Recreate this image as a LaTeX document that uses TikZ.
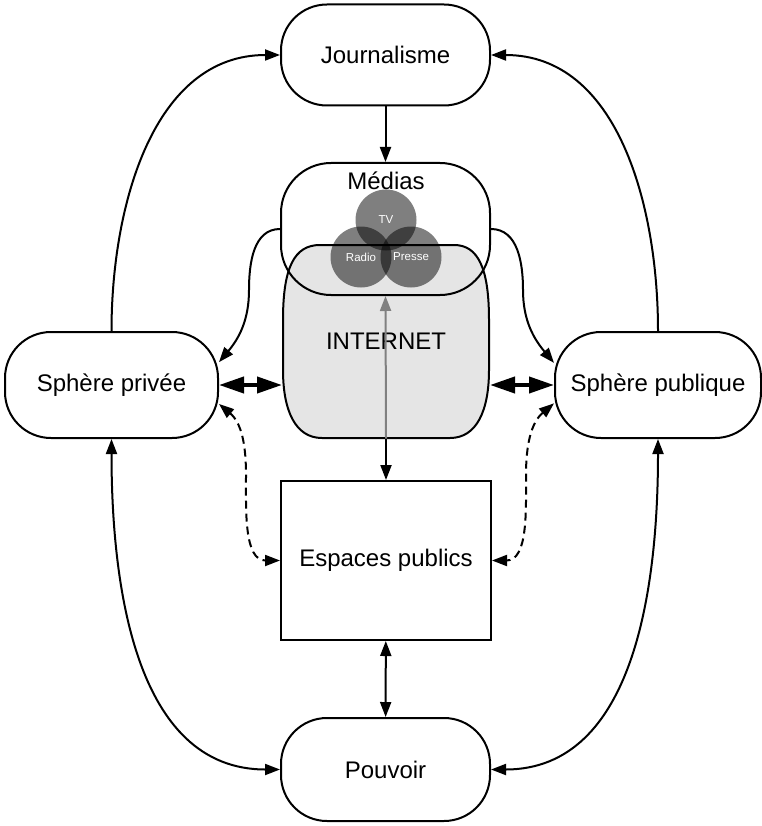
\documentclass[tikz,border=0pt]{standalone}
\usepackage{fontspec}
\setmainfont{Liberation Sans}
\usetikzlibrary{arrows.meta,positioning}

\begin{document}
\begin{tikzpicture}[x=1pt,y=-1pt,line width=2pt,>={Triangle[length=15pt,width=11pt]}]
\tikzstyle{every node}=[font=\fontsize{24}{29}\selectfont]
\tikzstyle{pill}=[draw,rectangle,rounded corners=46pt,minimum width=209pt,minimum height=101pt]
\tikzstyle{media}=[circle,fill=black,fill opacity=0.5,text opacity=1,text=white,minimum size=61pt,inner sep=0pt,font=\fontsize{11.5}{13}\selectfont]
\tikzstyle{bigarrow}=[<->,line width=4pt,>={Triangle[length=25pt,width=16pt]}]
\tikzstyle{dashline}=[<->,dash pattern=on 8pt off 5pt]
\useasboundingbox (0,0) rectangle (761,826);

\node[pill] (jour) at (385.5,55) {Journalisme};
\node[pill,minimum width=213pt,minimum height=106pt] (priv) at (111.5,385) {Sphère privée};
\node[pill,minimum width=206pt,minimum height=106pt] (pub) at (658,385) {Sphère publique};
\node[pill,minimum height=103pt] (pouvoir) at (385.5,769.5) {Pouvoir};
\node[draw,rectangle,minimum width=210pt,minimum height=159pt] (espaces) at (386,560.5) {Espaces publics};

% internet
\draw[fill=gray!20] (320,245) -- (454,245) .. controls (478,245) and (489,268) .. (489,320) -- (489,370)
  .. controls (489,410) and (477,438) .. (450,438) -- (322,438) .. controls (295,438) and (283,410) .. (283,370)
  -- (283,320) .. controls (283,268) and (294,245) .. (320,245) -- cycle;
\node[minimum width=206pt,minimum height=193pt] (internet) at (386,341) {INTERNET};

% medias
\node[draw,rectangle,rounded corners=50pt,minimum width=209pt,minimum height=132pt] (medias) at (385.5,229) {};
\node (mtitle) at (386,181) {Médias};
\node[media] (tv) at (386,220) {};
\node[media] (radio) at (361,257) {};
\node[media] (presse) at (411,257) {};
\node[text=white,font=\fontsize{11.5}{13}\selectfont] at (tv) {TV};
\node[text=white,font=\fontsize{11.5}{13}\selectfont] at (radio) {Radio};
\node[text=white,font=\fontsize{11.5}{13}\selectfont] at (presse) {Presse};

\draw[->] (jour) -- (medias);
\draw[->] (priv.north) to[out=90,in=180] (jour.west);
\draw[->] (pub.north) to[out=90,in=0] (jour.east);
\draw[<->] (priv.south) to[out=-90,in=180] (pouvoir.west);
\draw[<->] (pub.south) to[out=-90,in=0] (pouvoir.east);
\draw[<->] (espaces) -- (pouvoir);

\draw[bigarrow] (priv.east) -- (internet.west |- priv.east);
\draw[bigarrow] (pub.west) -- (internet.east |- pub.west);

\draw[->] (medias.west) to[out=180,in=90] (249,290) to[out=-90,in=50] (priv.12);
\draw[->] (medias.east) to[out=0,in=90] (523,290) to[out=-90,in=130] (pub.168);
\draw[dashline] (priv.-10) to[out=-40,in=90] (246,475) to[out=-90,in=180] (espaces.west);
\draw[dashline] (pub.190) to[out=-140,in=90] (526,475) to[out=-90,in=0] (espaces.east);

\draw[->] (internet.south) -- (espaces.north);
\draw[->,gray,line width=2pt] (internet.south) -- (medias.south);
\end{tikzpicture}
\end{document}
